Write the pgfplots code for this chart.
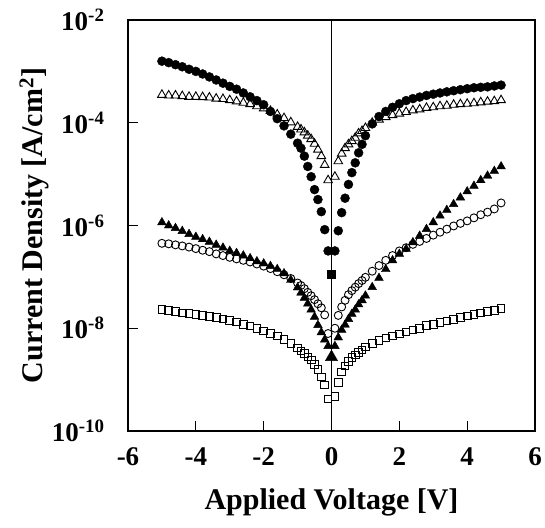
\documentclass[border=0pt]{standalone}
\usepackage{pgfplots}
\pgfplotsset{compat=1.18}
\usepackage{fontspec}
\setmainfont{Liberation Serif}
\begin{document}
\begin{tikzpicture}
\begin{axis}[
  name=ax,
  scale only axis,
  width=407pt, height=411pt,
  xmin=-6, xmax=6,
  ymode=log, ymin=1e-10, ymax=1e-2,
  xtick={-6,-4,-2,0,2,4,6},
  xticklabels={-6,-4,-2,0,2,4,6},
  ytick={1e-10,1e-8,1e-6,1e-4,1e-2},
  yticklabels={10\textsuperscript{-10},10\textsuperscript{-8},10\textsuperscript{-6},10\textsuperscript{-4},10\textsuperscript{-2}},
  minor tick style={draw=none},
  xtick pos=bottom, ytick pos=left,
  tick align=inside,
  major tick length=10pt,
  tick style={line width=1.2pt, black},
  axis line style={line width=1.6pt},
  ticklabel style={font=\fontsize{27}{27}\selectfont\bfseries},
  /pgf/number format/assume math mode=true,
  xlabel={Applied Voltage [V]},
  ylabel={Current Density [A/cm\textsuperscript{2}]},
  label style={font=\fontsize{30}{30}\selectfont\bfseries},
  xticklabel style={yshift=-13pt},
  yticklabel style={xshift=-20pt},
  xlabel style={yshift=-16pt},
  ylabel style={yshift=-4pt},
  clip=false,
]
% vertical line at 0
\addplot[black, line width=1.5pt, no marks] coordinates {(0,1e-10) (0,1e-2)};

% filled circles
\addplot[only marks, mark=*, mark size=4.5pt, black] table {
x y
-5.0 1.58e-3
-4.8 1.48e-3
-4.6 1.35e-3
-4.4 1.23e-3
-4.2 1.10e-3
-4.0 1.00e-3
-3.8 8.9e-4
-3.6 7.8e-4
-3.4 6.8e-4
-3.2 5.9e-4
-3.0 5.1e-4
-2.8 4.5e-4
-2.6 3.8e-4
-2.4 3.2e-4
-2.2 2.7e-4
-2.0 2.24e-4
-1.8 1.66e-4
-1.6 1.20e-4
-1.4 8.7e-5
-1.2 6.0e-5
-1.0 4.0e-5
-0.9 3.2e-5
-0.8 2.24e-5
-0.7 1.41e-5
-0.6 8.9e-6
-0.5 5.0e-6
-0.4 3.2e-6
-0.3 1.86e-6
-0.2 8.3e-7
-0.1 3.2e-7
0.1 3.2e-7
0.2 7.9e-7
0.3 1.78e-6
0.4 3.4e-6
0.5 6.3e-6
0.6 1.07e-5
0.7 1.66e-5
0.8 2.6e-5
0.9 3.8e-5
1.0 5.6e-5
1.2 9.5e-5
1.4 1.32e-4
1.6 1.66e-4
1.8 2.0e-4
2.0 2.34e-4
2.2 2.7e-4
2.4 2.95e-4
2.6 3.16e-4
2.8 3.4e-4
3.0 3.6e-4
3.2 3.8e-4
3.4 4.0e-4
3.6 4.2e-4
3.8 4.4e-4
4.0 4.6e-4
4.2 4.8e-4
4.4 4.9e-4
4.6 5.0e-4
4.8 5.2e-4
5.0 5.4e-4
};
\addplot[only marks, mark=square*, mark size=4pt, black] coordinates {(0,1.15e-7)};

% open triangles
\addplot[only marks, mark=triangle, mark size=5pt, black, line width=0.9pt, mark options={fill=white}] table {
x y
-5.0 3.5e-4
-4.8 3.4e-4
-4.6 3.4e-4
-4.4 3.3e-4
-4.2 3.2e-4
-4.0 3.2e-4
-3.8 3.16e-4
-3.6 3.1e-4
-3.4 2.95e-4
-3.2 2.9e-4
-3.0 2.75e-4
-2.8 2.6e-4
-2.6 2.45e-4
-2.4 2.3e-4
-2.2 2.1e-4
-2.0 1.9e-4
-1.8 1.7e-4
-1.6 1.45e-4
-1.4 1.23e-4
-1.2 1.02e-4
-1.0 8.3e-5
-0.9 7.4e-5
-0.8 6.5e-5
-0.7 5.6e-5
-0.6 4.8e-5
-0.5 3.9e-5
-0.4 3.0e-5
-0.3 2.24e-5
-0.2 1.51e-5
-0.1 7.6e-6
0.1 8.9e-6
0.2 1.78e-5
0.3 2.5e-5
0.4 3.2e-5
0.5 3.8e-5
0.6 4.4e-5
0.7 5.1e-5
0.8 6.2e-5
0.9 6.9e-5
1.0 7.9e-5
1.2 1.0e-4
1.4 1.15e-4
1.6 1.29e-4
1.8 1.41e-4
2.0 1.51e-4
2.2 1.62e-4
2.4 1.74e-4
2.6 1.82e-4
2.8 1.95e-4
3.0 2.0e-4
3.2 2.1e-4
3.4 2.14e-4
3.6 2.24e-4
3.8 2.3e-4
4.0 2.34e-4
4.2 2.4e-4
4.4 2.5e-4
4.6 2.57e-4
4.8 2.63e-4
5.0 2.75e-4
};

% filled triangles
\addplot[only marks, mark=triangle*, mark size=5pt, black] table {
x y
-5.0 1.15e-6
-4.8 1.0e-6
-4.6 8.9e-7
-4.4 7.8e-7
-4.2 6.8e-7
-4.0 6.0e-7
-3.8 5.4e-7
-3.6 4.8e-7
-3.4 4.2e-7
-3.2 3.7e-7
-3.0 3.2e-7
-2.8 2.9e-7
-2.6 2.6e-7
-2.4 2.3e-7
-2.2 2.0e-7
-2.0 1.82e-7
-1.8 1.62e-7
-1.6 1.41e-7
-1.4 1.17e-7
-1.2 8.7e-8
-1.0 6.2e-8
-0.9 4.9e-8
-0.8 3.9e-8
-0.7 3.0e-8
-0.6 2.3e-8
-0.5 1.66e-8
-0.4 1.15e-8
-0.3 8.3e-9
-0.2 6.0e-9
-0.1 4.5e-9
0.1 4.5e-9
0.2 6.6e-9
0.3 9.3e-9
0.4 1.17e-8
0.5 1.51e-8
0.6 1.9e-8
0.7 2.3e-8
0.8 2.9e-8
0.9 3.5e-8
1.0 4.3e-8
1.2 6.3e-8
1.4 9.5e-8
1.6 1.41e-7
1.8 2.1e-7
2.0 2.8e-7
2.2 3.5e-7
2.4 4.7e-7
2.6 6.3e-7
2.8 8.5e-7
3.0 1.15e-6
3.2 1.55e-6
3.4 2.0e-6
3.6 2.6e-6
3.8 3.5e-6
4.0 4.6e-6
4.2 5.9e-6
4.4 7.6e-6
4.6 9.3e-6
4.8 1.15e-5
5.0 1.41e-5
};
\addplot[only marks, mark=triangle*, mark size=7pt, black] coordinates {(0,2.75e-9)};

% open circles
\addplot[only marks, mark=o, mark size=4pt, black, line width=0.9pt, mark options={fill=white}] table {
x y
-5.0 4.5e-7
-4.8 4.4e-7
-4.6 4.2e-7
-4.4 4.0e-7
-4.2 3.8e-7
-4.0 3.55e-7
-3.8 3.3e-7
-3.6 3.1e-7
-3.4 2.8e-7
-3.2 2.6e-7
-3.0 2.4e-7
-2.8 2.24e-7
-2.6 2.1e-7
-2.4 1.95e-7
-2.2 1.78e-7
-2.0 1.62e-7
-1.8 1.45e-7
-1.6 1.26e-7
-1.4 1.10e-7
-1.2 9.3e-8
-1.0 7.6e-8
-0.9 6.8e-8
-0.8 5.9e-8
-0.7 5.0e-8
-0.6 4.3e-8
-0.5 3.6e-8
-0.4 3.0e-8
-0.3 2.5e-8
-0.2 1.82e-8
-0.1 7.9e-9
0.1 1.0e-8
0.2 1.78e-8
0.3 2.6e-8
0.4 3.5e-8
0.5 4.5e-8
0.6 5.4e-8
0.7 6.3e-8
0.8 7.4e-8
0.9 8.5e-8
1.0 9.8e-8
1.2 1.29e-7
1.4 1.66e-7
1.6 2.1e-7
1.8 2.6e-7
2.0 3.2e-7
2.2 3.7e-7
2.4 4.3e-7
2.6 4.9e-7
2.8 5.6e-7
3.0 6.5e-7
3.2 7.4e-7
3.4 8.5e-7
3.6 9.8e-7
3.8 1.10e-6
4.0 1.23e-6
4.2 1.41e-6
4.4 1.62e-6
4.6 1.82e-6
4.8 2.1e-6
5.0 2.75e-6
};

% open squares
\addplot[only marks, mark=square, mark size=3.8pt, black, line width=0.9pt, mark options={fill=white}] table {
x y
-5.0 2.3e-8
-4.8 2.24e-8
-4.6 2.14e-8
-4.4 2.0e-8
-4.2 1.95e-8
-4.0 1.86e-8
-3.8 1.78e-8
-3.6 1.7e-8
-3.4 1.62e-8
-3.2 1.51e-8
-3.0 1.41e-8
-2.8 1.32e-8
-2.6 1.2e-8
-2.4 1.10e-8
-2.2 1.0e-8
-2.0 8.9e-9
-1.8 7.9e-9
-1.6 7.1e-9
-1.4 6.0e-9
-1.2 5.0e-9
-1.0 4.1e-9
-0.9 3.6e-9
-0.8 3.2e-9
-0.7 2.75e-9
-0.6 2.4e-9
-0.5 2.0e-9
-0.4 1.58e-9
-0.3 1.12e-9
-0.2 7.9e-10
-0.1 4.2e-10
0.1 4.7e-10
0.2 8.9e-10
0.3 1.41e-9
0.4 1.86e-9
0.5 2.24e-9
0.6 2.7e-9
0.7 3.0e-9
0.8 3.4e-9
0.9 3.8e-9
1.0 4.3e-9
1.2 5.0e-9
1.4 5.8e-9
1.6 6.5e-9
1.8 7.1e-9
2.0 7.8e-9
2.2 8.5e-9
2.4 9.3e-9
2.6 1.0e-8
2.8 1.12e-8
3.0 1.2e-8
3.2 1.29e-8
3.4 1.38e-8
3.6 1.48e-8
3.8 1.62e-8
4.0 1.74e-8
4.2 1.86e-8
4.4 2.0e-8
4.6 2.14e-8
4.8 2.24e-8
5.0 2.4e-8
};
\end{axis}
\pgfresetboundingbox
\path[use as bounding box] ([shift={(-128pt,-97pt)}]ax.south west) rectangle ([shift={(10pt,20pt)}]ax.north east);
\end{tikzpicture}
\end{document}
